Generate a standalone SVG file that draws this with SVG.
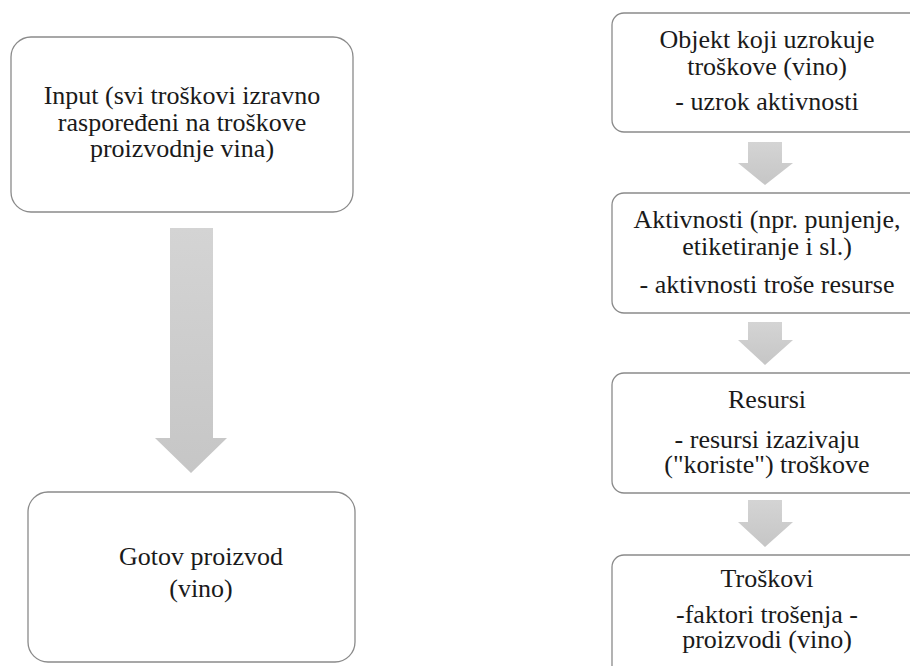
<svg xmlns="http://www.w3.org/2000/svg" width="910" height="666" viewBox="0 0 910 666">
<defs>
<linearGradient id="g" x1="0" y1="0" x2="0" y2="1">
<stop offset="0" stop-color="#d4d4d4"/>
<stop offset="1" stop-color="#c6c6c6"/>
</linearGradient>
</defs>
<rect width="910" height="666" fill="#fff"/>
<g id="connectors" fill="url(#g)">
<path d="M170,228 H213 V438 H227 L191,473 L155,438 H170 Z"/>
<path d="M748,142 H782 V163 H793 L765,185 L738,163 H748 Z"/>
<path d="M748,322 H782 V340 H793 L765,365 L738,340 H748 Z"/>
<path d="M748,500 H782 V522 H793 L765,547 L738,522 H748 Z"/>
</g>
<g fill="#fff" stroke="#8a8a8a" stroke-width="1.3">
<rect id="box-input" x="11" y="37" width="342" height="175" rx="20"/>
<rect id="box-gotov" x="28" y="492" width="327" height="170" rx="20"/>
<rect id="box-objekt" x="612" y="13" width="310" height="119" rx="12"/>
<rect id="box-aktivnosti" x="612" y="193" width="310" height="120" rx="12"/>
<rect id="box-resursi" x="612" y="373" width="310" height="120" rx="12"/>
<rect id="box-troskovi" x="612" y="555" width="310" height="130" rx="12"/>
</g>
<g font-family="Liberation Serif" font-size="26" fill="#1a1a1a" text-anchor="middle">
<g id="input">
<text x="182" y="104">Input (svi troškovi izravno</text>
<text x="182" y="131">raspoređeni na troškove</text>
<text x="182" y="157">proizvodnje vina)</text>
</g>
<g id="gotov">
<text x="201" y="565">Gotov proizvod</text>
<text x="201" y="597">(vino)</text>
</g>
<g id="objekt">
<text x="767" y="48">Objekt koji uzrokuje</text>
<text x="767" y="75">troškove (vino)</text>
<text x="767" y="110">- uzrok aktivnosti</text>
</g>
<g id="aktivnosti">
<text x="767" y="228">Aktivnosti (npr. punjenje,</text>
<text x="767" y="255">etiketiranje i sl.)</text>
<text x="767" y="293">- aktivnosti troše resurse</text>
</g>
<g id="resursi">
<text x="767" y="408">Resursi</text>
<text x="767" y="448">- resursi izazivaju</text>
<text x="767" y="473">("koriste") troškove</text>
</g>
<g id="troskovi">
<text x="767" y="587">Troškovi</text>
<text x="767" y="623">-faktori trošenja -</text>
<text x="767" y="648">proizvodi (vino)</text>
</g>
</g>
</svg>
